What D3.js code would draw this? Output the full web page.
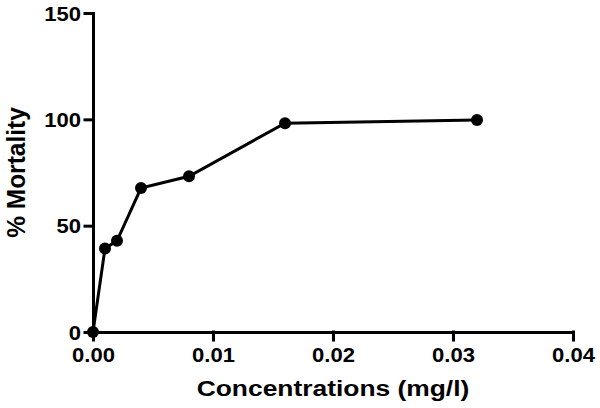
<!DOCTYPE html>
<html>
<head>
<meta charset="utf-8">
<script src="https://cdn.jsdelivr.net/npm/d3@7"></script>
<style>
  body { margin: 0; background: #fff; }
  text { font-family: "Liberation Sans", Arial, sans-serif; font-weight: bold; fill: #000; }
</style>
</head>
<body>
<div id="chart"></div>
<script>
// data
var concentrations = [0, 0.001, 0.002, 0.004, 0.008, 0.016, 0.032];
var mortality = [0, 39.3, 42.9, 67.7, 73.2, 98.2, 99.7];
var xTicks = [0, 0.01, 0.02, 0.03, 0.04];
var yTicks = [0, 50, 100, 150];

var width_chart = 600, height_chart = 408;
var plot_left = 93, plot_right = 573, plot_top = 13, plot_bottom = 332;

var svg = d3.select("#chart").append("svg")
    .attr("width", width_chart)
    .attr("height", height_chart);

var x = d3.scaleLinear().domain([0, 0.04]).range([plot_left, plot_right]);
var y = d3.scaleLinear().domain([0, 150]).range([plot_bottom, plot_top]);

// x axis
var gx = svg.append("g")
    .attr("transform", "translate(0," + plot_bottom + ")")
    .call(d3.axisBottom(x).tickValues(xTicks).tickFormat(d3.format(".2f"))
        .tickSize(8).tickSizeOuter(0).tickPadding(8));

// y axis
var gy = svg.append("g")
    .attr("transform", "translate(" + plot_left + ",0)")
    .call(d3.axisLeft(y).tickValues(yTicks).tickFormat(d3.format("d"))
        .tickSize(8).tickSizeOuter(0).tickPadding(5));

svg.selectAll(".domain, .tick line")
    .attr("stroke", "#000")
    .attr("stroke-width", 3)
    .attr("stroke-linecap", "square");

gx.selectAll(".tick text")
    .attr("font-size", "19.5px")
    .attr("dy", "0.72em")
    .attr("transform", "scale(1.13,1)");

gy.selectAll(".tick text")
    .attr("font-size", "19.5px")
    .attr("x", -12 / 1.13)
    .attr("dy", "0.36em")
    .attr("transform", "scale(1.13,1)");

svg.selectAll(".tick text").attr("fill", "#000");

// axis titles
svg.append("text")
    .attr("transform", "translate(" + (plot_left + plot_right) / 2 + ",396) scale(1.2,1)")
    .attr("text-anchor", "middle")
    .attr("font-size", "22px")
    .text("Concentrations (mg/l)");

svg.append("text")
    .attr("transform", "translate(25," + (plot_top + plot_bottom) / 2 + ") scale(1.05,1) rotate(-90)")
    .attr("text-anchor", "middle")
    .attr("font-size", "24.5px")
    .text("% Mortality");

// line and markers
var points = concentrations.map(function (c, i) {
    return {conc: c, value: mortality[i]};
});

var line = d3.line()
    .x(function (d) { return x(d.conc); })
    .y(function (d) { return y(d.value); });

svg.append("path")
    .datum(points)
    .attr("d", line)
    .attr("fill", "none")
    .attr("stroke", "#000")
    .attr("stroke-width", 3);

svg.selectAll(".dot")
    .data(points)
    .enter().append("circle")
    .attr("class", "dot")
    .attr("cx", function (d) { return x(d.conc); })
    .attr("cy", function (d) { return y(d.value); })
    .attr("r", 6)
    .attr("fill", "#000");
</script>
</body>
</html>
